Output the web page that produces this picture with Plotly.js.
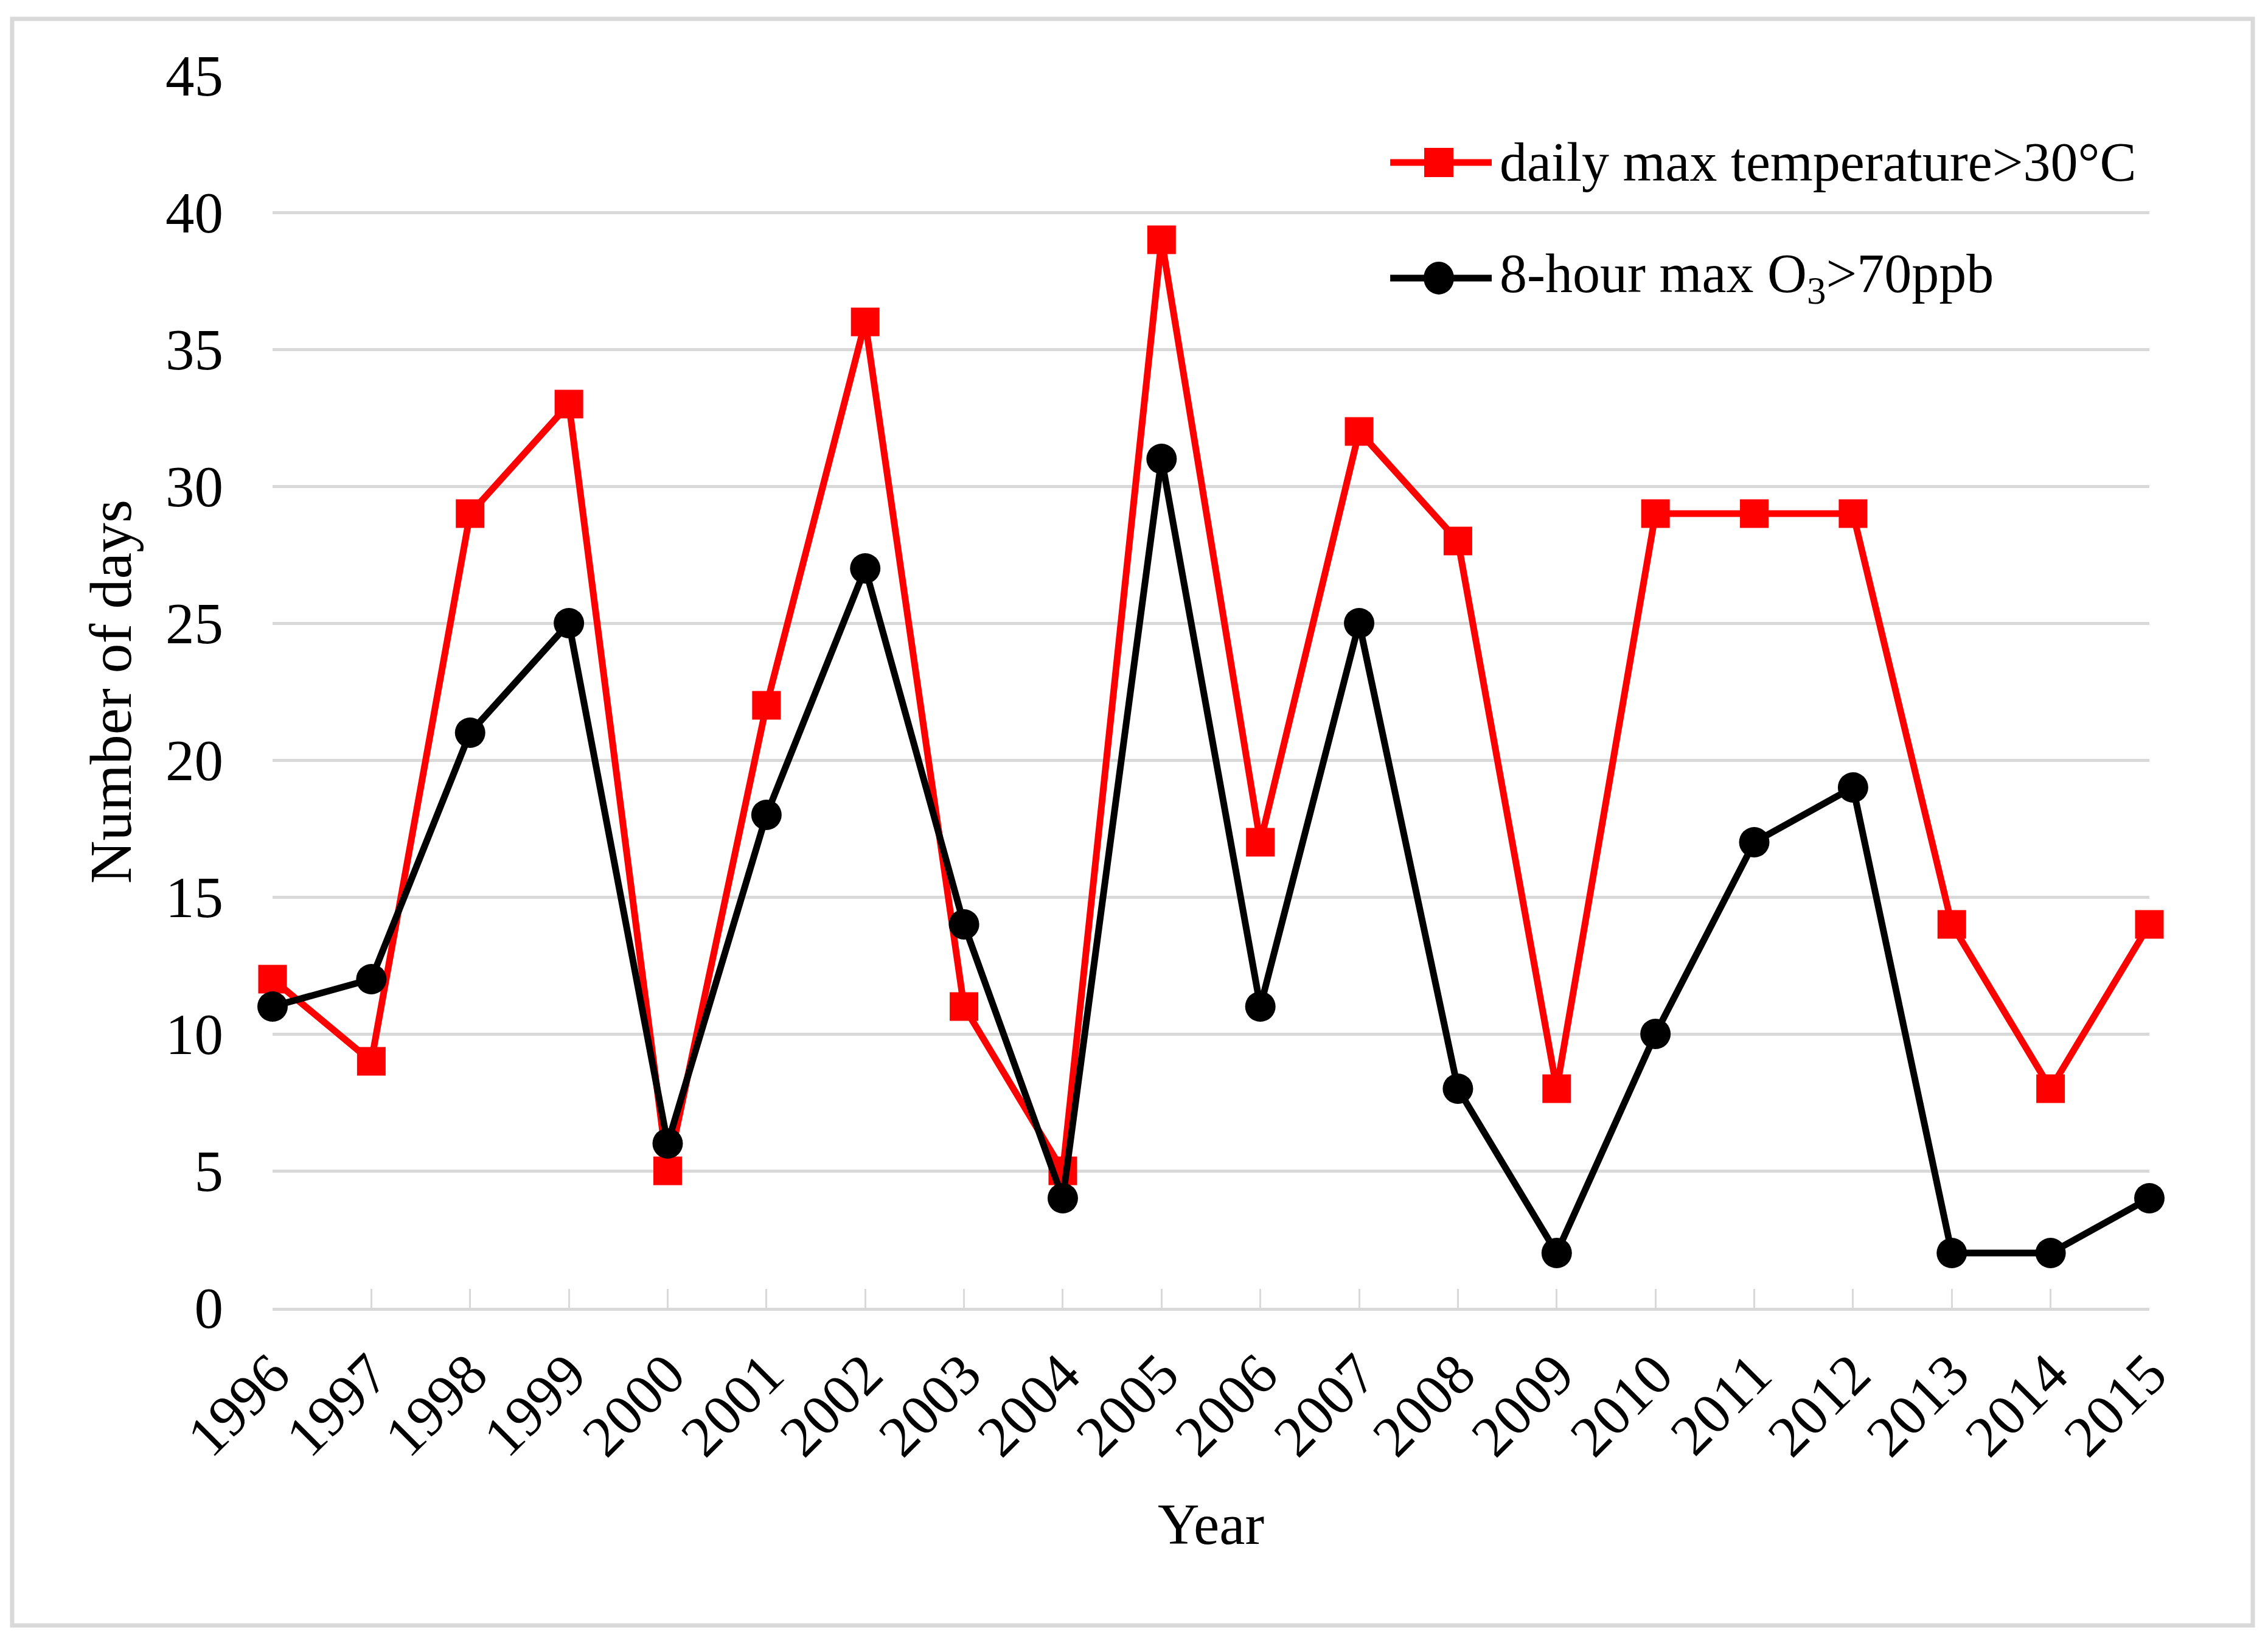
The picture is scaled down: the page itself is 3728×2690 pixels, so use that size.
<!DOCTYPE html>
<html><head><meta charset="utf-8">
<script src="https://cdn.plot.ly/plotly-3.0.1.min.js"></script>
<style>html,body{margin:0;padding:0;background:#fff}</style>
</head><body>
<div id="chart" style="width:3728px;height:2690px"></div>
<script>
// ---- data ----
const years = [1996,1997,1998,1999,2000,2001,2002,2003,2004,2005,2006,2007,2008,2009,2010,2011,2012,2013,2014,2015];
const tempDays  = [12, 9,29,33, 5,22,36,11, 5,39,17,32,28, 8,29,29,29,14, 8,14];
const ozoneDays = [11,12,21,25, 6,18,27,14, 4,31,11,25, 8, 2,10,17,19, 2, 2, 4];
const yTicks = [0,5,10,15,20,25,30,35,40,45];
const tempName  = 'daily max temperature&gt;30°C';
const ozoneName = '8-hour max O<sub>3</sub>&gt;70ppb';
const xTitle = 'Year';
const yTitle = 'Number of days';

// ---- style ----
const RED = '#ff0000', BLACK = '#000000', GRID = '#d9d9d9';
const FONT = '"Liberation Serif", "Times New Roman", serif';

const traces = [
  { x: years, y: tempDays, name: tempName, type: 'scatter', mode: 'lines+markers',
    line: {color: RED, width: 11}, marker: {symbol: 'square', size: 47, color: RED},
    cliponaxis: false, showlegend: false },
  { x: years, y: ozoneDays, name: ozoneName, type: 'scatter', mode: 'lines+markers',
    line: {color: BLACK, width: 11}, marker: {symbol: 'circle', size: 50, color: BLACK},
    cliponaxis: false, showlegend: false }
];

// custom legend positions (paper coords)
const legX = 0.6214, legLine0 = 0.5955, legLine1 = 0.6496, legText = 0.6532;
const legY = [0.9294, 0.8356];

const layout = {
  width: 3728, height: 2690,
  margin: {l: 448, r: 195, t: 124, b: 541, pad: 0},
  paper_bgcolor: '#ffffff', plot_bgcolor: '#ffffff',
  font: {family: FONT, size: 95, color: '#000'},
  showlegend: false,
  xaxis: {
    type: 'linear', range: [1996, 2015], tickvals: years, ticktext: years.map(String),
    tickangle: -45, showgrid: false, zeroline: false,
    showline: true, linecolor: GRID, linewidth: 5,
    ticks: 'inside', ticklen: 31, tickwidth: 3, tickcolor: GRID,
    ticklabelstandoff: 10, automargin: false,
    title: {text: xTitle, standoff: 60, font: {size: 95}}
  },
  yaxis: {
    range: [0, 45], tickvals: yTicks, showgrid: true, gridcolor: GRID, gridwidth: 5,
    zeroline: false, showline: false, ticks: '', ticklabelstandoff: 80, automargin: false,
    title: {text: yTitle, standoff: 23, font: {size: 98}}
  },
  shapes: [
    {type: 'rect', xref: 'paper', yref: 'paper', x0: -0.13874, x1: 1.05511, y0: -0.2578, y1: 1.0459,
     line: {color: GRID, width: 7}, fillcolor: 'rgba(0,0,0,0)', layer: 'below'},
    {type: 'line', xref: 'paper', yref: 'paper', x0: legLine0, x1: legLine1, y0: legY[0], y1: legY[0],
     line: {color: RED, width: 11}},
    {type: 'rect', xref: 'paper', yref: 'paper', xsizemode: 'pixel', ysizemode: 'pixel',
     xanchor: legX, yanchor: legY[0], x0: -24, x1: 24, y0: -24, y1: 24,
     fillcolor: RED, line: {width: 0}},
    {type: 'line', xref: 'paper', yref: 'paper', x0: legLine0, x1: legLine1, y0: legY[1], y1: legY[1],
     line: {color: BLACK, width: 11}},
    {type: 'circle', xref: 'paper', yref: 'paper', xsizemode: 'pixel', ysizemode: 'pixel',
     xanchor: legX, yanchor: legY[1], x0: -25, x1: 25, y0: -27, y1: 27,
     fillcolor: BLACK, line: {width: 0}}
  ],
  annotations: [
    {xref: 'paper', yref: 'paper', x: legText, y: legY[0], xanchor: 'left', yanchor: 'middle',
     text: tempName, showarrow: false, font: {size: 90}},
    {xref: 'paper', yref: 'paper', x: legText, y: legY[1], xanchor: 'left', yanchor: 'middle',
     text: ozoneName, showarrow: false, font: {size: 90}}
  ]
};

Plotly.newPlot('chart', traces, layout, {displayModeBar: false, staticPlot: true});
</script>
</body></html>
